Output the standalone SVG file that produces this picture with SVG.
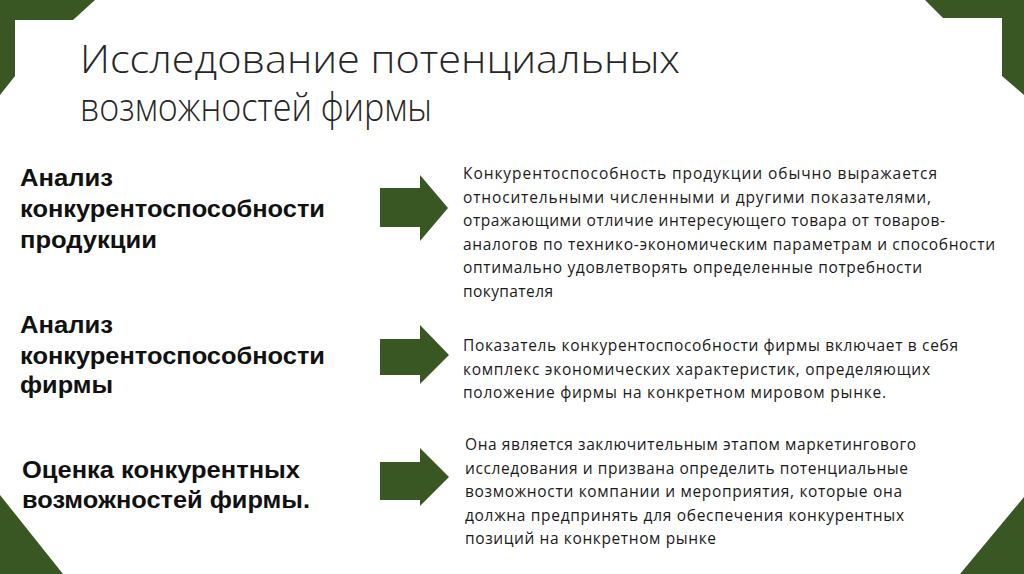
<svg xmlns="http://www.w3.org/2000/svg" width="1024" height="574" viewBox="0 0 1024 574">
  <style>
    .frame { fill: #385723; }
    .arrow { fill: #385723; }
    .title { font-family: "Open Sans", "Liberation Sans", sans-serif; font-weight: 300; font-size: 38px; fill: #262626; }
    .label { font-family: "Liberation Sans", Arial, sans-serif; font-weight: bold; font-size: 23px; fill: #111; }
    .desc { font-family: "Open Sans", "Liberation Sans", sans-serif; font-size: 15.5px; fill: #1a1a1a; }
  </style>
  <rect width="1024" height="574" fill="#ffffff"/>
  <g id="frame">
    <polygon class="frame" points="0,0 95,0 73,20 15,20 15,76 0,95"/>
    <polygon class="frame" points="925,0 1024,0 1024,95 1002,76 1002,18 943,18"/>
    <polygon class="frame" points="0,495 0,574 63,574"/>
    <polygon class="frame" points="1024,497 1024,574 960,574"/>
  </g>
  <g id="title">
    <text class="title" x="80" y="73" textLength="600" lengthAdjust="spacingAndGlyphs">Исследование потенциальных</text>
    <text class="title" x="80" y="121" textLength="352" lengthAdjust="spacingAndGlyphs">возможностей фирмы</text>
  </g>
  <g id="node-product">
    <text class="label" x="20" y="186" textLength="93" lengthAdjust="spacingAndGlyphs">Анализ</text>
    <text class="label" x="20" y="217" textLength="305" lengthAdjust="spacingAndGlyphs">конкурентоспособности</text>
    <text class="label" x="20" y="248" textLength="137" lengthAdjust="spacingAndGlyphs">продукции</text>
  </g>
  <g id="node-firm">
    <text class="label" x="20" y="333" textLength="93" lengthAdjust="spacingAndGlyphs">Анализ</text>
    <text class="label" x="20" y="364" textLength="305" lengthAdjust="spacingAndGlyphs">конкурентоспособности</text>
    <text class="label" x="20" y="393" textLength="93" lengthAdjust="spacingAndGlyphs">фирмы</text>
  </g>
  <g id="node-assessment">
    <text class="label" x="22" y="478" textLength="278" lengthAdjust="spacingAndGlyphs">Оценка конкурентных</text>
    <text class="label" x="22" y="508" textLength="288" lengthAdjust="spacingAndGlyphs">возможностей фирмы.</text>
  </g>
  <g id="connectors">
    <polygon class="arrow" points="380,188 420,188 420,175 448,208 420,241 420,227 380,227"/>
    <polygon class="arrow" points="380,339 420,339 420,325 449,355 420,384 420,375 380,375"/>
    <polygon class="arrow" points="380,462 420,462 420,448 449,477 420,506 420,500 380,500"/>
  </g>
  <g id="desc-product">
    <text class="desc" x="463" y="179" textLength="474">Конкурентоспособность продукции обычно выражается</text>
    <text class="desc" x="463" y="202.5" textLength="468">относительными численными и другими показателями,</text>
    <text class="desc" x="463" y="226" textLength="482">отражающими отличие интересующего товара от товаров-</text>
    <text class="desc" x="463" y="249.5" textLength="532">аналогов по технико-экономическим параметрам и способности</text>
    <text class="desc" x="463" y="273" textLength="459">оптимально удовлетворять определенные потребности</text>
    <text class="desc" x="463" y="296.5" textLength="90">покупателя</text>
  </g>
  <g id="desc-firm">
    <text class="desc" x="463" y="351" textLength="495">Показатель конкурентоспособности фирмы включает в себя</text>
    <text class="desc" x="463" y="374.5" textLength="467">комплекс экономических характеристик, определяющих</text>
    <text class="desc" x="463" y="398" textLength="423">положение фирмы на конкретном мировом рынке.</text>
  </g>
  <g id="desc-assessment">
    <text class="desc" x="465" y="450" textLength="451">Она является заключительным этапом маркетингового</text>
    <text class="desc" x="465" y="473.5" textLength="443">исследования и призвана определить потенциальные</text>
    <text class="desc" x="465" y="497" textLength="437">возможности компании и мероприятия, которые она</text>
    <text class="desc" x="465" y="520.5" textLength="439">должна предпринять для обеспечения конкурентных</text>
    <text class="desc" x="465" y="544" textLength="251">позиций на конкретном рынке</text>
  </g>
</svg>
